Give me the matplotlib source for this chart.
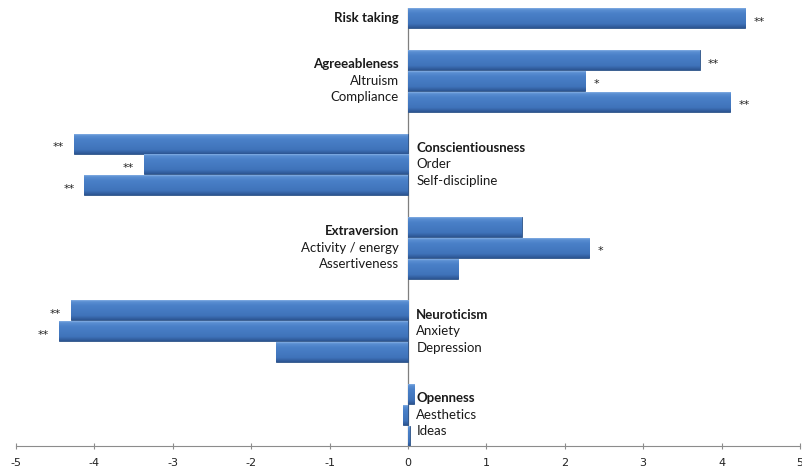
import numpy as np
import matplotlib
matplotlib.use('Agg')
import matplotlib.pyplot as plt
from matplotlib.colors import LinearSegmentedColormap

plt.rcParams['font.family'] = ['Lato', 'DejaVu Sans']
plt.rcParams['axes.unicode_minus'] = False

# data
groups = [
    ['Risk taking'],
    ['Agreeableness', 'Altruism', 'Compliance'],
    ['Conscientiousness', 'Order', 'Self-discipline'],
    ['Extraversion', 'Activity / energy', 'Assertiveness'],
    ['Neuroticism', 'Anxiety', 'Depression'],
    ['Openness', 'Aesthetics', 'Ideas'],
]
values = [
    [4.30],
    [3.72, 2.26, 4.11],
    [-4.26, -3.37, -4.13],
    [1.45, 2.31, 0.64],
    [-4.30, -4.45, -1.68],
    [0.08, -0.06, 0.02],
]
stars = [
    ['**'],
    ['**', '*', '**'],
    ['**', '**', '**'],
    ['', '*', ''],
    ['**', '**', ''],
    ['', '', ''],
]
# which side of zero the labels of each group sit on
label_side = ['left', 'left', 'right', 'left', 'right', 'right']

fig = plt.figure(figsize=(8.03, 4.68), dpi=100)
ax = fig.add_axes([0.0199, 0.047, 0.9763, 0.936])

cmap = LinearSegmentedColormap.from_list(
    'barblue', [(0, '#9cc0ec'), (0.12, '#5a8fd2'), (0.3, '#4a80c8'),
                (0.8, '#3f73ba'), (1, '#2c5592')])
grad = np.linspace(0, 1, 64).reshape(-1, 1)

pos = 0
for names, vals, st, lside in zip(groups, values, stars, label_side):
    ys = np.arange(pos, pos + len(names))
    for y, v, s in zip(ys, vals, st):
        bars = ax.barh(y, v, height=0.96, color='#3f73b8', edgecolor='#2d5387', linewidth=0.6, zorder=2)
        patch = bars[0]
        im = ax.imshow(grad, cmap=cmap, aspect='auto', zorder=2.5,
                       extent=(min(0, v), max(0, v), y + 0.48, y - 0.48))
        im.set_clip_path(patch)
        if s:
            if v > 0:
                ax.annotate(s, (v, y), xytext=(6, -2.5), textcoords='offset points',
                            ha='left', va='center', fontsize=8, color='#222222',
                            family=['DejaVu Sans'])
            else:
                ax.annotate(s, (v, y), xytext=(-7, -2.5), textcoords='offset points',
                            ha='right', va='center', fontsize=8, color='#222222',
                            family=['DejaVu Sans'])
    # category labels, on the other side of zero
    mid = ys.mean()
    label_y = mid + (np.arange(len(names)) - (len(names) - 1) / 2) * 0.79
    for i, (name, ly) in enumerate(zip(names, label_y)):
        weight = 'bold' if i == 0 else 'normal'
        if lside == 'left':
            ax.annotate(name, (0, ly), xytext=(-6.5, 0), textcoords='offset points',
                        ha='right', va='center', fontsize=9.5, fontweight=weight, color='#1a1a1a')
        else:
            ax.annotate(name, (0, ly), xytext=(6, 0), textcoords='offset points',
                        ha='left', va='center', fontsize=9.5, fontweight=weight, color='#1a1a1a')
    pos += len(names) + 1

ax.set_xlim(-5, 5)
ax.set_ylim(pos - 1.5, -0.5)
ax.axvline(0, color='#7f7f7f', linewidth=0.9, zorder=1)

for side in ['top', 'right', 'left']:
    ax.spines[side].set_visible(False)
ax.spines['bottom'].set_color('#8c8c8c')
ax.set_yticks([])
ax.set_xticks(np.arange(-5, 6, 1))
ax.tick_params(axis='x', direction='inout', length=5, color='#8c8c8c', labelsize=8, pad=6)
for lab in ax.get_xticklabels():
    lab.set_family(['DejaVu Sans'])
    lab.set_color('#222222')

fig.savefig('out.png', dpi=100)
